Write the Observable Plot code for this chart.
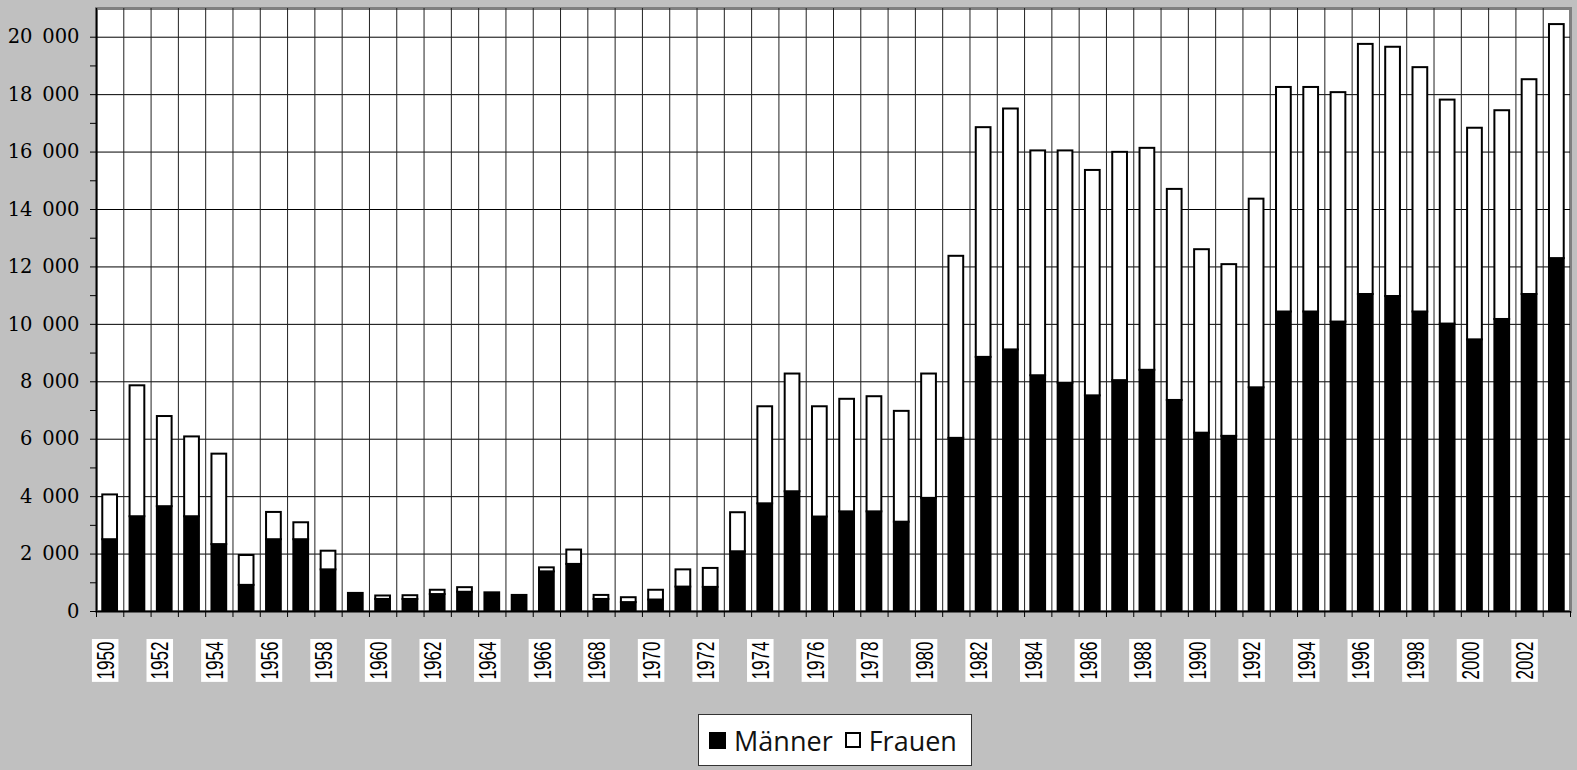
<!DOCTYPE html>
<html>
<head>
<meta charset="utf-8">
<script src="https://cdn.jsdelivr.net/npm/d3@7"></script>
<script src="https://cdn.jsdelivr.net/npm/@observablehq/plot@0.6"></script>
<style>
  html, body { margin: 0; padding: 0; background: #C0C0C0; }
  #chart svg { display: block; background: #C0C0C0; color: black; }
  #legend-row { display: flex; justify-content: center; padding-left: 100px; padding-right: 7px; margin-top: 14px; }
  #legend { background: white; border: 1.5px solid #333; height: 50px; padding: 0 14px 0 10px;
            display: flex; align-items: center; font-family: "Open Sans", sans-serif; font-size: 27px; color: #111; }
  .sw { display: inline-block; width: 17px; height: 17px; box-sizing: border-box; margin-right: 8px; }
  .sw.m { background: black; }
  .sw.f { background: white; border: 2px solid black; margin-left: 12px; width: 16px; height: 16px; }
</style>
</head>
<body>
<div id="chart"></div>
<div id="legend-row"><div id="legend"><span class="sw m"></span><span>Männer</span><span class="sw f"></span><span>Frauen</span></div></div>
<script>
const years = d3.range(1950, 2004);
const maenner = [2500,3300,3650,3300,2330,910,2500,2500,1450,630,
                 420,420,590,670,650,560,1380,1640,420,310,
                 400,850,840,2080,3750,4170,3290,3470,3470,3110,
                 3940,6030,8850,9110,8210,7950,7510,8040,8400,7350,
                 6210,6100,7790,10430,10430,10080,11040,10970,10430,10010,
                 9460,10170,11040,12290];
const frauen = [1560,4560,3140,2780,3150,1040,950,590,650,0,
                120,130,150,160,0,0,140,500,140,170,
                340,600,660,1360,3380,4100,3840,3920,4010,3860,
                4330,6340,8000,8390,7830,8090,7850,7950,7730,7350,
                6390,5980,6570,7820,7820,7990,8710,8680,8510,7800,
                7370,7270,7480,8150];
const seriesNames = ["Männer", "Frauen"];
const seriesColors = ["black", "white"];
const yTicks = d3.range(0, 20001, 2000);
const yMinorTicks = d3.range(1000, 21000, 2000);
const xLabelYears = years.filter(y => y % 2 === 0 && y <= 2002);

const rows = [];
years.forEach((yr, i) => {
  rows.push({year: yr, series: "Männer", value: maenner[i]});
  rows.push({year: yr, series: "Frauen", value: frauen[i]});
});
const boundaries = d3.range(years[0] - 0.5, years[years.length - 1] + 1, 1);
const fmt = d => d3.format(",")(d).replace(/,/g, "\u2002");

const svg = Plot.plot({
  width: 1577,
  height: 700,
  marginLeft: 96,
  marginRight: 7,
  marginTop: 8,
  marginBottom: 89,
  x: {type: "linear", domain: [years[0] - 0.5, years[years.length - 1] + 0.5], axis: null, label: null},
  y: {domain: [0, 21000], axis: null, label: null},
  color: {domain: seriesNames, range: seriesColors},
  marks: [
    Plot.frame({fill: "white", stroke: "#808080", strokeWidth: 3}),
    Plot.ruleY(yTicks.slice(1), {stroke: "black", strokeWidth: 1}),
    Plot.ruleX(boundaries.slice(1, -1), {stroke: "#222", strokeWidth: 1}),
    Plot.rectY(rows, Plot.stackY({
      x1: d => d.year - 0.27,
      x2: d => d.year + 0.27,
      y: "value",
      z: "series",
      fill: "series",
      order: seriesNames,
      stroke: "black",
      strokeWidth: 2
    })),
    Plot.ruleY([0], {stroke: "black", strokeWidth: 1.5}),
    Plot.ruleX([years[0] - 0.5], {stroke: "black", strokeWidth: 1.5}),
    Plot.axisY({ticks: yTicks, tickSize: 6, tickPadding: 11, tickFormat: fmt, label: null,
                fontSize: 19.5, fontFamily: "DejaVu Serif", stroke: "black", fill: "black"}),
    Plot.axisY({ticks: yMinorTicks, tickSize: 6, tickFormat: () => "", label: null, stroke: "black"}),
    Plot.axisX({ticks: boundaries, tickSize: 6, tickFormat: () => "", label: null, stroke: "black"}),
    Plot.axisX(xLabelYears, {tickSize: 0, tickPadding: 30, tickRotate: -90, tickFormat: d => String(d), label: null,
                fontSize: 24, fontFamily: "Liberation Sans", fill: "black", dx: -4})
  ]
});
document.getElementById("chart").append(svg);

// condense the rotated year labels and put white boxes behind them
const squeeze = 0.71;
Array.from(svg.querySelectorAll("text")).forEach(t => {
  if (!/^\d{4}$/.test(t.textContent.trim())) return;
  const tr = (t.getAttribute("transform") || "") + ` scale(${squeeze},1)`;
  t.setAttribute("transform", tr);
  const b = t.getBBox();
  const r = document.createElementNS("http://www.w3.org/2000/svg", "rect");
  const padAlong = 2.5 / squeeze, padAcross = 3;
  r.setAttribute("x", b.x - padAlong);
  r.setAttribute("y", b.y + 3 - padAcross);
  r.setAttribute("width", b.width + 2 * padAlong);
  r.setAttribute("height", b.height - 6 + 2 * padAcross);
  r.setAttribute("fill", "white");
  r.setAttribute("stroke", "none");
  r.setAttribute("transform", tr);
  t.parentNode.insertBefore(r, t);
});
</script>
</body>
</html>
